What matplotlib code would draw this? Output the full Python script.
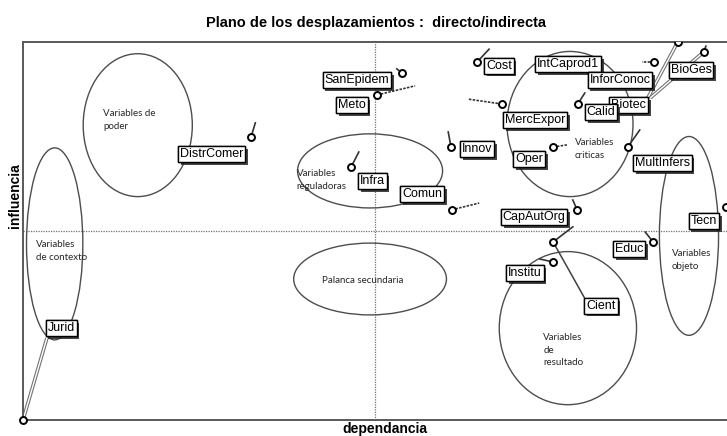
import matplotlib
matplotlib.use('Agg')
import matplotlib.pyplot as plt
from matplotlib.patches import Ellipse
import matplotlib.patheffects as pe

# ---------------- data ----------------
names = ['SanEpidem', 'Meto', 'Infra', 'Innov', 'Comun', 'Cost', 'IntCaprod1',
         'Biotec', 'InforConoc', 'BioGes', 'Calid', 'MercExpor', 'Oper',
         'MultInfers', 'CapAutOrg', 'Tecn', 'Educ', 'Institu', 'Cient',
         'DistrComer', 'Jurid']
# direct position (circle)
direct_dep = [53.8, 50.3, 46.6, 60.8, 60.9, 64.5, 77.4,
              93.0, 96.7, 89.6, 78.8, 68.0, 75.3,
              85.9, 78.7, 99.8, 89.5, 75.3, 75.3,
              32.4, 0.0]
direct_inf = [91.8, 86.0, 66.9, 72.2, 55.6, 94.7, 94.2,
              100.0, 97.4, 94.7, 83.6, 83.6, 72.2,
              72.2, 55.6, 56.3, 47.1, 41.8, 47.1,
              74.9, 0.0]
# indirect position (end of displacement)
indirect_dep = [53.1, 55.7, 47.7, 60.4, 64.8, 66.2, 77.4,
                90.1, 97.0, 87.9, 79.8, 63.2, 77.3,
                87.6, 78.1, 101.5, 88.4, 73.4, 78.1,
                33.0, 0.3]
indirect_inf = [92.9, 88.4, 70.9, 76.2, 57.4, 98.1, 94.2,
                100.0, 98.9, 94.7, 86.5, 84.9, 72.8,
                76.7, 58.2, 58.5, 49.7, 42.6, 51.1,
                78.6, 0.5]

title = 'Plano de los desplazamientos :  directo/indirecta'
xlabel = 'dependancia'
ylabel = 'influencia'

# ---------------- layout ----------------
label_pos = {
    'SanEpidem': (47.4, 89.9), 'Meto': (46.7, 83.3), 'Infra': (49.6, 63.2),
    'Innov': (64.5, 71.7), 'Comun': (56.7, 59.8), 'Cost': (67.6, 93.7),
    'IntCaprod1': (77.4, 94.2), 'Biotec': (86.0, 83.3), 'InforConoc': (84.8, 89.9),
    'BioGes': (94.9, 92.6), 'Calid': (82.1, 81.5), 'MercExpor': (72.7, 79.4),
    'Oper': (71.9, 69.0), 'MultInfers': (90.8, 68.0), 'CapAutOrg': (72.6, 53.7),
    'Tecn': (96.7, 52.6), 'Educ': (86.1, 45.2), 'Institu': (71.3, 38.9),
    'Cient': (82.1, 30.2), 'DistrComer': (26.8, 70.4), 'Jurid': (5.4, 24.3),
}
dotted_tails = {'Meto', 'Comun', 'MercExpor', 'Oper', 'BioGes', 'Biotec'}
leaders = {'Jurid': ((3.4, 21.7), 'double'), 'Biotec': ((88.6, 84.7), 'double'),
           'InforConoc': ((89.1, 85.2), 'double'), 'Cient': ((79.7, 32.5), 'single')}
label_order = ['Biotec']  # drawn first (underneath)

regions = [  # (text, center, width, height, text anchor)
    ('Variables de\npoder', (16.3, 78.0), 15.5, 37.8, (11.4, 79.4)),
    ('Variables\nde contexto', (4.5, 46.6), 8.0, 50.8, (1.8, 44.8)),
    ('Variables\nreguladoras', (49.3, 65.9), 20.6, 19.6, (38.9, 63.4)),
    ('Palanca secundaria', (49.3, 37.3), 21.7, 19.0, (42.5, 37.0)),
    ('Variables\ncriticas', (77.7, 78.3), 17.9, 38.4, (78.4, 71.6)),
    ('Variables\nobjeto', (94.6, 48.7), 8.4, 52.6, (92.2, 42.3)),
    ('Variables\nde\nresultado', (77.4, 24.3), 19.5, 40.5, (73.9, 18.5)),
]

W, H = 727, 436
fig = plt.figure(figsize=(W / 100, H / 100), dpi=100)
ax = fig.add_axes([23 / W, 16 / H, 704 / W, 378 / H])
ax.set_xlim(0, 100)
ax.set_ylim(0, 100)
ax.set_xticks([])
ax.set_yticks([])
for s in ['left', 'bottom', 'top']:
    ax.spines[s].set_color('0.35')
    ax.spines[s].set_linewidth(1.4)
ax.spines['right'].set_visible(False)

ax.axvline(50, color='0.45', lw=0.9, ls=(0, (1, 1)), zorder=1)
ax.axhline(50, color='0.45', lw=0.9, ls=(0, (1, 1)), zorder=1)

region_font = ['Lato', 'DejaVu Sans']
for txt, c, w, h, tp in regions:
    ax.add_patch(Ellipse(c, w, h, fill=False, edgecolor='0.3', lw=1.0, zorder=1))
    ax.text(tp[0], tp[1], txt, ha='left', va='center', fontsize=7,
            family=region_font, color='0.15', linespacing=1.55, zorder=1)

# leaders
for n, (end, kind) in leaders.items():
    i = names.index(n)
    xs = [direct_dep[i], end[0]]
    ys = [direct_inf[i], end[1]]
    if kind == 'double':
        ax.plot(xs, ys, color='0.45', lw=2.6, zorder=2, solid_capstyle='butt')
        ax.plot(xs, ys, color='white', lw=1.0, zorder=2, solid_capstyle='butt')
    else:
        ax.plot(xs, ys, color='0.25', lw=1.1, zorder=2)

# displacement tails and points
for i, n in enumerate(names):
    ls = (0, (1.5, 0.8)) if n in dotted_tails else '-'
    ax.plot([direct_dep[i], indirect_dep[i]], [direct_inf[i], indirect_inf[i]],
            color='0.2', lw=1.2, ls=ls, zorder=2, clip_on=True)
    ax.plot(direct_dep[i], direct_inf[i], 'o', ms=5, mfc='white', mec='black',
            mew=1.4, zorder=3, clip_on=False if n == 'Jurid' else True)

# labels
order = label_order + [n for n in names if n not in label_order]
for k, n in enumerate(order):
    x, y = label_pos[n]
    t = ax.text(x, y, n, ha='center', va='center', fontsize=9,
                family=['Liberation Sans', 'DejaVu Sans'], color='black',
                zorder=4 + k * 0.01,
                bbox=dict(boxstyle='square,pad=0.15', facecolor='white',
                          edgecolor='black', lw=1.0))
    t.get_bbox_patch().set_path_effects([
        pe.withSimplePatchShadow(offset=(2, -2), shadow_rgbFace='0.15', alpha=0.85),
        pe.Normal()])

head_font = ['Liberation Sans Narrow', 'Liberation Sans', 'DejaVu Sans']
fig.text(376 / W, 1 - 23 / H, title, ha='center', va='center', fontsize=10.5,
         fontweight='bold', family=head_font)
fig.text(385 / W, 1 - 429 / H, xlabel, ha='center', va='center', fontsize=10,
         fontweight='bold', family=head_font)
fig.text(15 / W, 1 - 196 / H, ylabel, ha='center', va='center', fontsize=10,
         fontweight='bold', family=head_font, rotation=90)

fig.savefig('out.png', dpi=100)
